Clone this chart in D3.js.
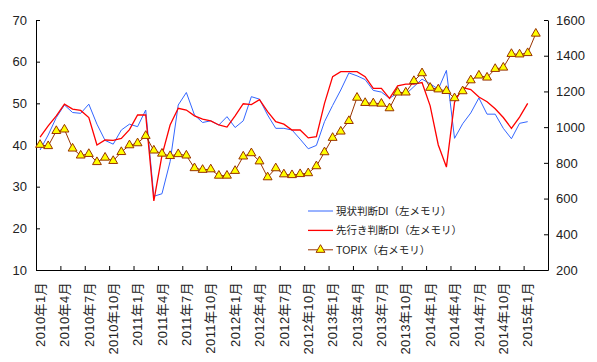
<!DOCTYPE html>
<html>
<head>
<meta charset="utf-8">
<script src="https://cdn.jsdelivr.net/npm/d3@7"></script>
<style>
  body { margin: 0; background: #fff; }
  svg { display: block; font-family: 'Liberation Sans', Arial, 'Noto Sans CJK JP', sans-serif; }
</style>
</head>
<body>
<div id="chart"></div>
<script>
// categories: one per month, Jan 2010 .. Mar 2015
const months = [
  '2010年1月', '2010年2月', '2010年3月', '2010年4月', '2010年5月', '2010年6月',
  '2010年7月', '2010年8月', '2010年9月', '2010年10月', '2010年11月', '2010年12月',
  '2011年1月', '2011年2月', '2011年3月', '2011年4月', '2011年5月', '2011年6月',
  '2011年7月', '2011年8月', '2011年9月', '2011年10月', '2011年11月', '2011年12月',
  '2012年1月', '2012年2月', '2012年3月', '2012年4月', '2012年5月', '2012年6月',
  '2012年7月', '2012年8月', '2012年9月', '2012年10月', '2012年11月', '2012年12月',
  '2013年1月', '2013年2月', '2013年3月', '2013年4月', '2013年5月', '2013年6月',
  '2013年7月', '2013年8月', '2013年9月', '2013年10月', '2013年11月', '2013年12月',
  '2014年1月', '2014年2月', '2014年3月', '2014年4月', '2014年5月', '2014年6月',
  '2014年7月', '2014年8月', '2014年9月', '2014年10月', '2014年11月', '2014年12月',
  '2015年1月', '2015年2月', '2015年3月'
]

// 現状判断DI (left axis)
const genjoDI = [
  38.8, 42.4, 46.6, 49.6, 47.8, 47.6, 49.8, 45.0, 41.1, 40.2, 43.6, 45.0,
  44.4, 48.4, 27.7, 28.3, 36.0, 49.6, 52.6, 47.2, 45.4, 45.8, 44.8, 46.8,
  44.2, 45.8, 51.6, 51.0, 47.2, 44.0, 44.0, 43.6, 41.4, 39.1, 39.9, 45.6,
  49.5, 53.2, 57.3, 56.6, 55.7, 53.1, 52.7, 51.2, 52.5, 52.2, 54.0, 55.8,
  54.7, 53.4, 57.9, 41.6, 45.1, 47.7, 51.3, 47.4, 47.4, 44.0, 41.5, 45.2,
  45.6
]

// 先行き判断DI (left axis)
const sakiyukiDI = [
  41.9, 44.6, 47.0, 49.8, 48.6, 48.3, 46.6, 40.0, 41.2, 41.1, 41.6, 43.7,
  47.2, 47.2, 26.6, 37.5, 44.8, 48.8, 48.4, 47.0, 46.2, 45.8, 44.8, 44.3,
  47.0, 49.9, 49.7, 50.9, 48.0, 45.6, 45.0, 43.6, 43.6, 41.7, 42.0, 50.0,
  56.4, 57.6, 57.6, 57.6, 56.4, 53.6, 53.6, 51.2, 54.2, 54.6, 54.6, 55.0,
  49.4, 40.0, 34.7, 50.3, 53.8, 53.3, 51.5, 50.4, 48.7, 46.6, 44.0, 46.7,
  50.0
]

// TOPIX month-end (right axis)
const topix = [
  901.12, 894.10, 978.81, 987.04, 880.46, 841.42, 850.21, 804.67, 829.51, 810.91, 860.94, 898.80,
  910.08, 951.27, 869.38, 851.85, 838.48, 849.22, 841.37, 770.60, 761.17, 764.06, 728.46, 728.61,
  755.27, 835.96, 854.35, 808.51, 719.49, 770.08, 736.07, 731.64, 737.42, 742.33, 781.46, 859.80,
  940.25, 975.66, 1034.71, 1165.13, 1135.78, 1133.84, 1131.70, 1106.05, 1194.10, 1194.26, 1258.66, 1302.29,
  1220.64, 1211.66, 1202.89, 1162.44, 1201.41, 1262.56, 1289.42, 1277.97, 1326.29, 1333.64, 1410.34, 1407.51,
  1415.07, 1523.85
]

const leftTicks = [10, 20, 30, 40, 50, 60, 70]
const rightTicks = [200, 400, 600, 800, 1000, 1200, 1400, 1600]
const legendLabels = ['現状判断DI（左メモリ）', '先行き判断DI（左メモリ）', 'TOPIX（右メモリ）']

const width = 597
const height = 362
const margin = { top: 20, right: 49, bottom: 92, left: 36 }
const x0 = margin.left
const x1 = width - margin.right
const y0 = height - margin.bottom
const y1 = margin.top

const x = d3.scaleBand().domain(months).range([x0, x1])
const xi = d3.scaleLinear().domain([0, months.length]).range([x0, x1])
const yL = d3.scaleLinear().domain([10, 70]).range([y0, y1])
const yR = d3.scaleLinear().domain([200, 1600]).range([y0, y1])
const cx = i => x(months[i]) + x.bandwidth() / 2

const colors = { genjo: '#3366ff', saki: '#ff0000', topix: '#993300', marker: '#ffff00' }

const svg = d3.select('#chart').append('svg')
  .attr('width', width)
  .attr('height', height)

// axes
const styleAxis = g => {
  g.select('.domain').attr('stroke', '#000')
  g.selectAll('.tick line').attr('stroke', '#000')
  g.selectAll('.tick text').attr('fill', '#222').attr('font-size', 13)
}

svg.append('g')
  .attr('transform', `translate(${x0},0)`)
  .call(d3.axisLeft(yL).tickValues(leftTicks).tickSizeInner(-4).tickSizeOuter(0).tickPadding(9))
  .call(styleAxis)

svg.append('g')
  .attr('transform', `translate(${x1},0)`)
  .call(d3.axisRight(yR).tickValues(rightTicks).tickFormat(d3.format('d'))
    .tickSizeInner(-4).tickSizeOuter(0).tickPadding(8))
  .call(styleAxis)

svg.append('g')
  .attr('transform', `translate(0,${y0})`)
  .call(d3.axisBottom(xi).tickValues(d3.range(0, months.length + 1, 3)).tickSizeInner(-4).tickSizeOuter(0).tickFormat(''))
  .call(styleAxis)

// rotated month labels, every third category
svg.append('g')
  .selectAll('text')
  .data(months.map((m, i) => ({ m, i })).filter(d => d.i % 3 === 0))
  .enter().append('text')
  .attr('transform', d => `translate(${cx(d.i)},${y0 + 12}) rotate(-90)`)
  .attr('text-anchor', 'end')
  .attr('dy', '0.36em')
  .attr('font-size', 13)
  .attr('letter-spacing', 0.4)
  .attr('fill', '#222')
  .text(d => d.m)

// lines
const lineL = d3.line().x((d, i) => cx(i)).y(d => yL(d))
const lineR = d3.line().x((d, i) => cx(i)).y(d => yR(d))

svg.append('path')
  .datum(genjoDI)
  .attr('d', lineL)
  .attr('fill', 'none')
  .attr('stroke', colors.genjo)
  .attr('stroke-width', 1)

svg.append('path')
  .datum(sakiyukiDI)
  .attr('d', lineL)
  .attr('fill', 'none')
  .attr('stroke', colors.saki)
  .attr('stroke-width', 1.3)

svg.append('path')
  .datum(topix)
  .attr('d', lineR)
  .attr('fill', 'none')
  .attr('stroke', colors.topix)
  .attr('stroke-width', 1)

const tri = d3.symbol(d3.symbolTriangle, 34)

svg.append('g')
  .selectAll('path')
  .data(topix)
  .enter().append('path')
  .attr('d', tri)
  .attr('transform', (d, i) => `translate(${cx(i)},${yR(d)})`)
  .attr('fill', colors.marker)
  .attr('stroke', colors.topix)
  .attr('stroke-width', 1)

// legend
const legend = svg.append('g').attr('transform', 'translate(308,211)')
const legendColors = [colors.genjo, colors.saki, colors.topix]
const rows = legend.selectAll('g')
  .data(legendLabels)
  .enter().append('g')
  .attr('transform', (d, i) => `translate(0,${i * 19.4})`)

rows.append('line')
  .attr('x1', 0).attr('x2', 25)
  .attr('stroke', (d, i) => legendColors[i])
  .attr('stroke-width', (d, i) => i === 1 ? 1.3 : 1)

rows.filter((d, i) => i === 2)
  .append('path')
  .attr('d', tri)
  .attr('transform', 'translate(12.5,0)')
  .attr('fill', colors.marker)
  .attr('stroke', colors.topix)

rows.append('text')
  .attr('x', 28)
  .attr('dy', '0.36em')
  .attr('font-size', 10.5)
  .attr('fill', '#222')
  .text(d => d)
</script>
</body>
</html>
